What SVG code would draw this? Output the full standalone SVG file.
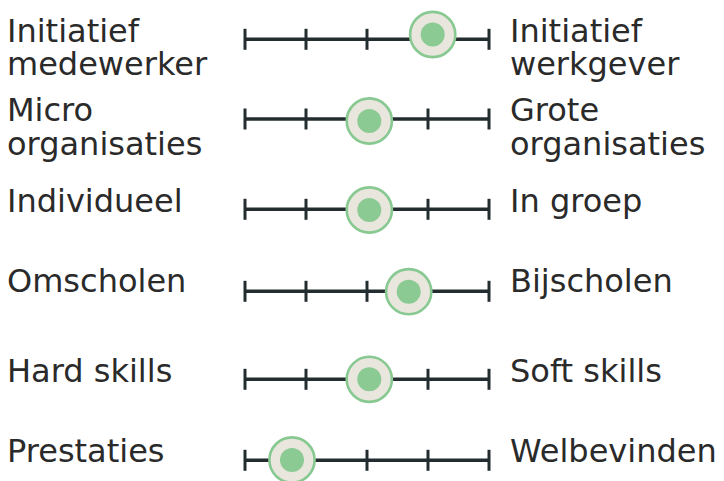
<svg xmlns="http://www.w3.org/2000/svg" width="724" height="481" viewBox="0 0 724 481">
  <defs>
    <style>
      .lbl { font-family: "DejaVu Sans", "Liberation Sans", sans-serif; font-size: 32px; fill: #2a2a2a; }
      .axis { stroke: #232d2f; stroke-width: 3.5; fill: none; }
      .tick { stroke: #232d2f; stroke-width: 3; }
      .ring { fill: #e9e6de; stroke: #88c992; stroke-width: 2.6; }
      .dot { fill: #8bcb93; }
    </style>
    <!-- one scale: baseline with five ticks, drawn around y=0 -->
    <g id="scale">
      <line class="axis" x1="245" y1="0" x2="489" y2="0"/>
      <line class="tick" x1="245" y1="-10.5" x2="245" y2="10.5"/>
      <line class="tick" x1="306" y1="-10.5" x2="306" y2="10.5"/>
      <line class="tick" x1="367" y1="-10.5" x2="367" y2="10.5"/>
      <line class="tick" x1="428" y1="-10.5" x2="428" y2="10.5"/>
      <line class="tick" x1="489" y1="-10.5" x2="489" y2="10.5"/>
    </g>
    <g id="knob">
      <circle class="ring" cx="0" cy="0" r="22.6"/>
      <circle class="dot" cx="0" cy="0" r="12"/>
    </g>
  </defs>

  <!-- scales -->
  <g id="connectors">
    <use href="#scale" y="39.3"/>
    <use href="#scale" y="119"/>
    <use href="#scale" y="209.3"/>
    <use href="#scale" y="291.3"/>
    <use href="#scale" y="379.3"/>
    <use href="#scale" y="460.3"/>
  </g>

  <g id="row-initiatief">
    <text class="lbl" x="7" y="41.7">Initiatief</text>
    <text class="lbl" x="7" y="75">medewerker</text>
    <text class="lbl" x="510" y="41.7">Initiatief</text>
    <text class="lbl" x="510" y="75">werkgever</text>
    <use href="#knob" x="432.7" y="34.5"/>
  </g>

  <g id="row-organisaties">
    <text class="lbl" x="7" y="121">Micro</text>
    <text class="lbl" x="7" y="154.5">organisaties</text>
    <text class="lbl" x="510" y="121">Grote</text>
    <text class="lbl" x="510" y="154.5">organisaties</text>
    <use href="#knob" x="369.3" y="121"/>
  </g>

  <g id="row-groep">
    <text class="lbl" x="7" y="212.3">Individueel</text>
    <text class="lbl" x="510" y="212.3">In groep</text>
    <use href="#knob" x="369.3" y="210"/>
  </g>

  <g id="row-scholen">
    <text class="lbl" x="7" y="292.3">Omscholen</text>
    <text class="lbl" x="510" y="292.3">Bijscholen</text>
    <use href="#knob" x="408.7" y="291.7"/>
  </g>

  <g id="row-skills">
    <text class="lbl" x="7" y="381.7">Hard skills</text>
    <text class="lbl" x="510" y="381.7">Soft skills</text>
    <use href="#knob" x="369.3" y="379.3"/>
  </g>

  <g id="row-welzijn">
    <text class="lbl" x="7" y="461.7">Prestaties</text>
    <text class="lbl" x="510" y="461.7">Welbevinden</text>
    <use href="#knob" x="292" y="460"/>
  </g>
</svg>
